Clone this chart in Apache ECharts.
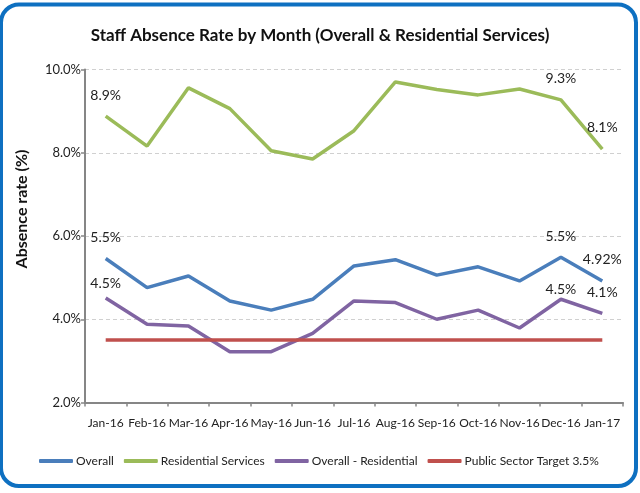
<!DOCTYPE html>
<html>
<head>
<meta charset="utf-8">
<script src="https://cdn.jsdelivr.net/npm/echarts@6/dist/echarts.min.js"></script>
<style>
  html, body { margin: 0; padding: 0; background: #fff; }
  #main { width: 640px; height: 493px; }
</style>
</head>
<body>
<div id="main"></div>
<script>
// data
const months = ['Jan-16', 'Feb-16', 'Mar-16', 'Apr-16', 'May-16', 'Jun-16', 'Jul-16',
  'Aug-16', 'Sep-16', 'Oct-16', 'Nov-16', 'Dec-16', 'Jan-17'];
const overall = [5.46, 4.76, 5.04, 4.44, 4.22, 4.48, 5.28, 5.43, 5.06, 5.26, 4.92, 5.49, 4.92];
const residential = [8.88, 8.16, 9.56, 9.06, 8.05, 7.85, 8.53, 9.70, 9.52, 9.39, 9.53, 9.27, 8.09];
const overallMinusResidential = [4.51, 3.88, 3.84, 3.22, 3.22, 3.66, 4.44, 4.40, 4.00, 4.22, 3.79, 4.48, 4.14];
const target = [3.5, 3.5, 3.5, 3.5, 3.5, 3.5, 3.5, 3.5, 3.5, 3.5, 3.5, 3.5, 3.5];
const labelledPoints = [0, 11, 12];
const yTicks = [2, 4, 6, 8, 10];

const FONT = 'Lato, sans-serif';

let myChart = echarts.init(document.getElementById('main'));

// labels on first / last points only
function withLabels(values, decimalsLast, distances) {
  return values.map((v, i) => {
    const k = labelledPoints.indexOf(i);
    if (k < 0) return v;
    const dec = (i === values.length - 1 && decimalsLast) ? decimalsLast : 1;
    return {
      value: v,
      label: {
        show: true,
        position: 'top',
        distance: distances[k],
        formatter: v.toFixed(dec) + '%'
      }
    };
  });
}

function lineSeries(name, color, data) {
  return {
    name: name,
    type: 'line',
    data: data,
    symbol: 'circle',
    symbolSize: 0.1,
    showSymbol: true,
    lineStyle: { color: color, width: 3.5 },
    itemStyle: { color: color },
    label: { color: '#222', fontFamily: FONT, fontSize: 14 },
    z: 3
  };
}

myChart.setOption({
  animation: false,
  title: {
    text: 'Staff Absence Rate by Month (Overall & Residential Services)',
    left: 'center',
    top: 22,
    textStyle: { fontFamily: FONT, fontWeight: 'bold', fontSize: 17, color: '#111' }
  },
  graphic: [{
    type: 'rect',
    shape: { x: 1, y: 4.5, width: 635, height: 481.5, r: 18 },
    style: { fill: 'none', stroke: '#0E70C1', lineWidth: 4 },
    silent: true
  }],
  legend: {
    left: 39,
    top: 455,
    padding: 0,
    width: 600,
    itemWidth: 34,
    itemHeight: 4,
    itemGap: 10,
    icon: 'roundRect',
    textStyle: { fontFamily: FONT, fontSize: 12, color: '#222', padding: [0, 0, 0, -2] },
    data: ['Overall', 'Residential Services', 'Overall - Residential', 'Public Sector Target 3.5%']
  },
  grid: { left: 85, right: 17, top: 69.5, bottom: 90.5 },
  xAxis: {
    type: 'category',
    data: months,
    boundaryGap: true,
    axisLine: { lineStyle: { color: '#868686', width: 2 } },
    axisTick: { show: true, length: 4, lineStyle: { color: '#868686', width: 1.5 } },
    axisLabel: { fontFamily: FONT, fontSize: 12, color: '#222', margin: 15, interval: 0 }
  },
  yAxis: {
    type: 'value',
    min: yTicks[0],
    max: yTicks[yTicks.length - 1],
    interval: 2,
    name: 'Absence rate (%)',
    nameLocation: 'middle',
    nameGap: 55,
    nameTextStyle: {
      fontFamily: FONT, fontWeight: 'bold', fontSize: 16, color: '#111',
      padding: [0, 0, 0, 54]
    },
    axisLine: { show: true, lineStyle: { color: '#868686', width: 2 } },
    axisTick: { show: true, length: 4, lineStyle: { color: '#868686', width: 1.5 } },
    axisLabel: {
      fontFamily: FONT, fontSize: 13, color: '#222', margin: 4,
      formatter: v => v.toFixed(1) + '%'
    },
    splitLine: { show: true, lineStyle: { color: '#d0d0d0', type: [4, 3], width: 1 } }
  },
  series: [
    lineSeries('Overall', '#4A7EBB', withLabels(overall, 2, [14, 14, 14])),
    lineSeries('Residential Services', '#9BBB59', withLabels(residential, 0, [14, 14, 14])),
    lineSeries('Overall - Residential', '#8064A2', withLabels(overallMinusResidential, 0, [7, 3, 14])),
    lineSeries('Public Sector Target 3.5%', '#C0504D', target)
  ]
});
</script>
</body>
</html>
